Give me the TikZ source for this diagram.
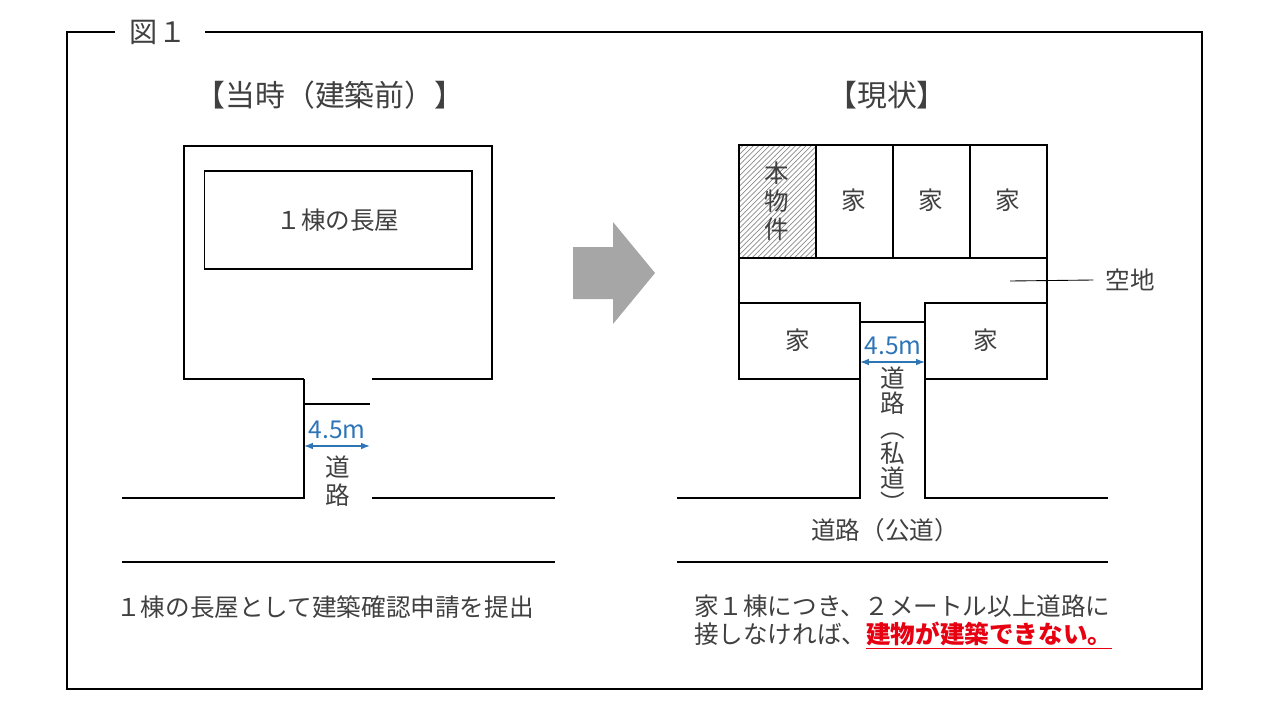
\documentclass[tikz,border=0pt]{standalone}
\usepackage{fontspec}
\setmainfont{Noto Sans CJK JP}
\usetikzlibrary{patterns,arrows.meta}
\definecolor{dimblue}{RGB}{46,117,182}
\definecolor{warnred}{RGB}{230,0,18}
\tikzset{
  lot/.style={draw, line width=0.6pt},
  label/.style={font=\fontsize{14}{16}\selectfont, text=black!75, inner sep=1pt},
  dim/.style={{Latex[length=5pt]}-{Latex[length=5pt]}, dimblue, line width=0.8pt},
}
\begin{document}
\begin{tikzpicture}[x=0.02cm, y=-0.02cm]
  \useasboundingbox (0,0) rectangle (1280,720);
  % Frame
  \draw[line width=0.6pt] (115,32) -- (67,32) -- (67,689) -- (1202,689) -- (1202,32) -- (205,32);
  \node (title) [label, font=\fontsize{16}{18}\selectfont] at (158,32) {図１};
  % Left: before
  \node (before) [label, font=\fontsize{17}{19}\selectfont] at (330,95) {【当時（建築前）】};
  \draw[lot] (304,379) -- (184,379) -- (184,146) -- (492,146) -- (492,379) -- (372,379);
  \draw[lot] (304,379) -- (304,498) -- (122,498);
  \draw[lot] (372,498) -- (555,498);
  \draw[lot] (122,562) -- (555,562);
  \draw[line width=1.2pt] (304,404) -- (370,404);
  \node (rowhouse) [lot, label, minimum width=5.36cm, minimum height=1.96cm] at (338,220) {１棟の長屋};
  \coordinate (la) at (304,446);
  \coordinate (lb) at (370,446);
  \draw[dim] (la) -- (lb);
  \node (lwidth) [label, text=dimblue] at (337,430) {4.5m};
  \node (lroad) [label, align=center] at (338,481) {道\\路};
  \node (lnote) [label] at (325,607) {１棟の長屋として建築確認申請を提出};
  % Arrow
  \fill[black!35] (573,247) -- (613,247) -- (613,222) -- (655,273) -- (613,324) -- (613,299) -- (573,299) -- cycle;
  % Right: now
  \node (now) [label, font=\fontsize{17}{19}\selectfont] at (887,95) {【現状】};
  \draw[lot, pattern=north east lines, pattern color=black!45] (739,145) rectangle (816,258);
  \node (self) [label, align=center] at (777,201) {本\\物\\件};
  \foreach \x/\n in {816/a, 893/b, 970/c}{
    \draw[lot] (\x,145) rectangle ++(77,113);
    \node (h\n) [label] at (\x+38,200) {家};
  }
  \draw[lot] (739,303) -- (739,258) -- (1047,258) -- (1047,303);
  \coordinate (vac) at (1010,281);
  \node (vacant) [label] at (1130,280) {空地};
  \draw[line width=0.5pt] (vac) -- ([xshift=-0.2cm]vacant.west);
  \draw[lot] (739,303) rectangle (860,379);
  \node (hd) [label] at (798,340) {家};
  \draw[lot] (925,303) rectangle (1047,379);
  \node (he) [label] at (986,340) {家};
  \draw[line width=1.2pt] (860,322) -- (925,322);
  \draw[lot] (860,322) -- (860,498) -- (677,498);
  \draw[lot] (925,379) -- (925,498) -- (1108,498);
  \draw[lot] (677,562) -- (1108,562);
  \coordinate (ra) at (860,362);
  \coordinate (rb) at (925,362);
  \draw[dim] (ra) -- (rb);
  \node (rwidth) [label, text=dimblue] at (893,346) {4.5m};
  \node (private) [label, font=\fontsize{14}{14.2}\selectfont, align=center, inner sep=0pt] at (893,440) {道\\路\\︵\\私\\道\\︶};
  \node (public) [label] at (885,530) {道路（公道）};
  \node (rnote) [label, anchor=west, align=left] at (692,622)
    {家１棟につき、２メートル以上道路に\\接しなければ、{\bfseries\color{warnred}\underline{建物が建築できない。}}};
\end{tikzpicture}
\end{document}
